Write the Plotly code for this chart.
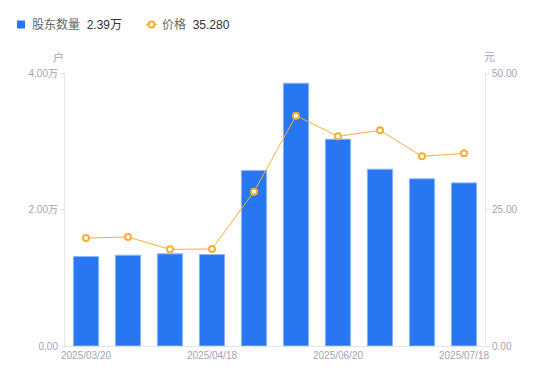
import plotly.graph_objects as go

dates = ["2025/03/20", "2025/03/31", "2025/04/10", "2025/04/18", "2025/04/30",
         "2025/05/20", "2025/06/20", "2025/06/30", "2025/07/10", "2025/07/18"]
holders = [13100, 13300, 13500, 13400, 25700, 38500, 30300, 25900, 24500, 23900]
price = [19.78, 19.96, 17.70, 17.77, 28.27, 42.19, 38.40, 39.50, 34.74, 35.28]

x_tick_idx = [0, 3, 6, 9]
y1_ticks = [0, 20000, 40000]
y1_text = ["0.00", "2.00万", "4.00万"]
y2_ticks = [0, 25, 50]
y2_text = ["0.00", "25.00", "50.00"]

BLUE = "#2777F2"
ORANGE = "#F7AF34"
AXIS = "#E3E3E8"
TICKC = "#A2A3B5"
FONT = "Liberation Sans, Arial, Noto Sans CJK SC, sans-serif"

fig = go.Figure()
fig.add_trace(go.Bar(
    x=dates, y=holders, name="股东数量",
    marker=dict(color=BLUE, line=dict(color="#8DB6F7", width=1)),
    width=0.6, yaxis="y",
))
fig.add_trace(go.Scatter(
    x=dates, y=price, name="价格", mode="lines+markers", yaxis="y2",
    line=dict(color=ORANGE, width=1),
    marker=dict(symbol="circle", size=6, color="white",
                line=dict(color=ORANGE, width=2)),
))

OFF = 8  # page body margin
W, H = 542, 373
ml, mt = 65 - OFF, 73 - OFF
pw, ph = 420, 273
mr = W - ml - pw
mb = H - mt - ph

fig.update_layout(
    width=W, height=H,
    margin=dict(l=ml, r=mr, t=mt, b=mb),
    paper_bgcolor="white", plot_bgcolor="white",
    showlegend=False,
    font=dict(family=FONT, size=10, color=TICKC),
    xaxis=dict(
        type="category", showgrid=False, zeroline=False,
        showline=True, linecolor=AXIS, linewidth=1,
        tickmode="array", tickvals=[dates[i] for i in x_tick_idx],
        ticktext=[dates[i] for i in x_tick_idx],
        ticks="", tickfont=dict(size=10, color=TICKC),
        range=[-0.5, len(dates) - 0.5],
    ),
    yaxis=dict(
        range=[0, 40000], tickvals=y1_ticks, ticktext=y1_text,
        showgrid=False, zeroline=False, showline=True, linecolor=AXIS,
        ticks="outside", ticklen=4, tickcolor=AXIS,
        tickfont=dict(size=10, color=TICKC),
    ),
    yaxis2=dict(
        range=[0, 50], tickvals=y2_ticks, ticktext=y2_text,
        overlaying="y", side="right",
        showgrid=False, zeroline=False, showline=True, linecolor=AXIS,
        ticks="outside", ticklen=4, tickcolor=AXIS,
        tickfont=dict(size=10, color=TICKC),
    ),
    bargap=0.4,
)

# convert screenshot pixel coords to paper coords
def px(x):
    return (x - OFF - ml) / pw
def py(y):
    return (mt + ph - (y - OFF)) / ph

# axis unit titles
for txt, xx in (("户", 58), ("元", 489)):
    fig.add_annotation(text=txt, x=px(xx), y=py(57), xref="paper", yref="paper",
                       xanchor="center", yanchor="middle",
                       showarrow=False, font=dict(size=11, color=TICKC, family=FONT))

# custom legend
fig.add_shape(type="rect", xref="paper", yref="paper",
              x0=px(17), x1=px(25), y0=py(28.5), y1=py(20.5),
              fillcolor=BLUE, line=dict(width=0))
fig.add_annotation(
    text="<span style='color:#666666'>股东数量</span>  <span style='color:#333333'>%.2f万</span>" % (holders[-1] / 10000),
    x=px(30), y=py(24.5), xref="paper", yref="paper", xanchor="left", yanchor="middle",
    showarrow=False, font=dict(size=12, family=FONT))
fig.add_shape(type="line", xref="paper", yref="paper",
              x0=px(146), x1=px(157), y0=py(24.5), y1=py(24.5),
              line=dict(color=ORANGE, width=1.5))
fig.add_shape(type="circle", xref="paper", yref="paper",
              x0=px(148.5), x1=px(154.5), y0=py(27.5), y1=py(21.5),
              fillcolor="white", line=dict(color=ORANGE, width=2))
fig.add_annotation(
    text="<span style='color:#666666'>价格</span>  <span style='color:#333333'>%.3f</span>" % price[-1],
    x=px(159.5), y=py(24.5), xref="paper", yref="paper", xanchor="left", yanchor="middle",
    showarrow=False, font=dict(size=12, family=FONT))

fig.write_html("out.html")
